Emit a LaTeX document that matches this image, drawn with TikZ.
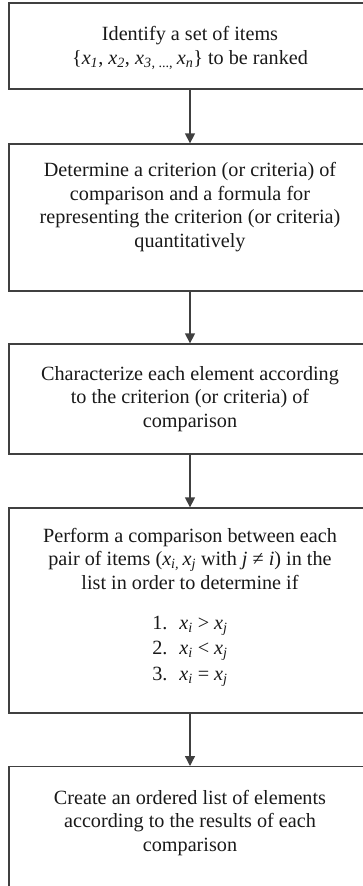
\documentclass[tikz,border=0pt]{standalone}
\usepackage{fontspec}
\setmainfont{Liberation Serif}
\usetikzlibrary{arrows.meta}
\newcommand{\vx}[1]{\textit{x}\textsubscript{\textit{#1}}}
\begin{document}
\begin{tikzpicture}[x=1pt,y=-1pt,
  boxstyle/.style={draw=black!75, line width=1.3pt, rectangle, minimum width=362pt, inner sep=0pt},
  txtstyle/.style={text=black!90, align=center, font=\fontsize{20.2}{23.8}\selectfont, inner sep=0pt},
  flow/.style={draw=black!75, line width=1.3pt, -{Triangle[length=10pt,width=10pt]}}]
\useasboundingbox (0,0) rectangle (362,886);
\node[boxstyle, minimum height=86pt] (b1) at (190,46) {};
\node[boxstyle, minimum height=147pt] (b2) at (190,217.5) {};
\node[boxstyle, minimum height=110pt] (b3) at (190,399) {};
\node[boxstyle, minimum height=205pt] (b4) at (190,610.5) {};
\node[boxstyle, minimum height=200pt, anchor=north] (b5) at (190,766) {};
\node[txtstyle] (t1) at (190,48) {Identify a set of items\\[1pt] \{\vx{1}, \vx{2}, \vx{3}\textsubscript{, ..., }\vx{n}\} to be ranked};
\node[txtstyle] (t2) at (190,207) {Determine a criterion (or criteria) of\\ comparison and a formula for\\ representing the criterion (or criteria)\\ quantitatively};
\node[txtstyle] (t3) at (190,399) {Characterize each element according\\ to the criterion (or criteria) of\\ comparison};
\node[txtstyle] (t4) at (190,607) {Perform a comparison between each\\ pair of items (\vx{i,}\,\vx{j} with \textit{j} ≠ \textit{i}) in the\\ list in order to determine if\\[16pt] 1.~ \vx{i} > \vx{j}\\[1.5pt] 2.~ \vx{i} < \vx{j}\\[1.5pt] 3.~ \vx{i} = \vx{j}};
\node[txtstyle] (t5) at (190,823) {Create an ordered list of elements\\ according to the results of each\\ comparison};
\draw[flow] (b1.south) -- (b2.north);
\draw[flow] (b2.south) -- (b3.north);
\draw[flow] (b3.south) -- (b4.north);
\draw[flow] (b4.south) -- (b5.north);
\end{tikzpicture}
\end{document}
